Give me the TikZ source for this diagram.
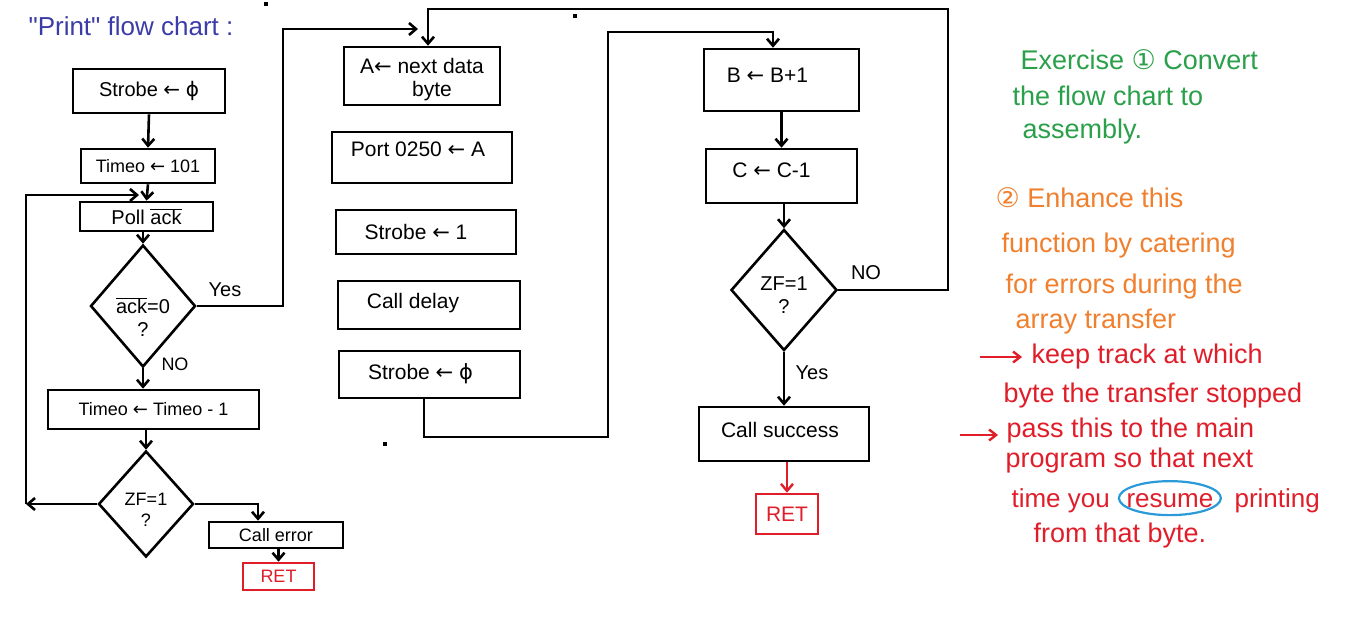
\documentclass[tikz,border=0pt]{standalone}
\usepackage{fontspec}
\setmainfont{Liberation Sans}
\newfontfamily\plainf{Liberation Sans}
\newfontfamily\symf{DejaVu Sans}
\usetikzlibrary{arrows.meta,shapes.geometric}
\definecolor{cgreen}{HTML}{2AA04A}
\definecolor{corange}{HTML}{F0802E}
\definecolor{cred}{HTML}{E01E2A}
\definecolor{cblue}{HTML}{2A9AD8}
\definecolor{ctitle}{HTML}{3C3CA8}
\newcommand{\myarr}{{\symf ←}}
\newcommand{\myphi}{{\symf ϕ}}
\newcommand{\myquote}{{\plainf "}}
\begin{document}
\begin{tikzpicture}[x=1pt,y=-1pt,
  box/.style={draw, line width=2.6pt, rectangle, inner sep=0pt},
  rbox/.style={draw=cred, text=cred, line width=2.6pt, rectangle, inner sep=0pt},
  dia/.style={draw, line width=2.6pt, diamond, inner sep=0pt},
  conn/.style={line width=2.6pt},
  arr/.style={line width=2.6pt, -{Straight Barb[length=7pt,width=12pt]}},
  rarr/.style={line width=2.4pt, draw=cred, -{Straight Barb[length=7pt,width=11pt]}},
  fsa/.style={font=\fontsize{18}{21}\selectfont},
  fsb/.style={font=\fontsize{20}{23}\selectfont},
  fsc/.style={font=\fontsize{21}{23}\selectfont},
  note/.style={anchor=base west, font=\fontsize{27}{30}\selectfont},
  notes/.style={anchor=base west, font=\fontsize{26}{30}\selectfont},
]
\fill[white] (0,0) rectangle (1352,622);
\useasboundingbox (0,0) rectangle (1352,622);

% title
\node[anchor=base west, text=ctitle, font=\fontsize{26}{30}\selectfont] (title) at (25,35) {\myquote Print\myquote{} flow chart :};

% left column
\node[box, fsb, minimum width=152, minimum height=44] (s0) at (149,91) {Strobe \myarr{} \myphi};
\node[box, fsa, minimum width=134, minimum height=34] (timeo) at (148,166) {Timeo \myarr{} 101};
\node[box, fsb, minimum width=133, minimum height=29] (poll) at (146.5,216.5) {Poll $\overline{\hbox{ack}}$};
\node[dia, minimum width=105, minimum height=122,
  label={[fsb, align=center, yshift=-11pt]center:{$\overline{\hbox{ack}}$=0\\?}}] (d1) at (143,306) {};
\node[box, fsa, minimum width=211, minimum height=39] (tm1) at (153.5,409.5) {Timeo \myarr{} Timeo - 1};
\node[dia, minimum width=95, minimum height=106,
  label={[fsa, align=center, yshift=-6pt]center:{ZF=1\\?}}] (zf1) at (146,504) {};
\node[box, fsa, minimum width=134, minimum height=26] (ce) at (276,535) {Call error};
\node[rbox, fsa, minimum width=71, minimum height=27] (ret1) at (278.5,576.5) {RET};

\node[fsb] (yes1) at (225,290) {Yes};
\node[fsa] (no1) at (175,364) {NO};

% middle column
\node[box, minimum width=156, minimum height=58,
  label={[fsc, align=center, yshift=-4pt]center:{A\myarr{} next data\\\hspace*{20pt}byte}}] (abox) at (422,76) {};
\node[box, minimum width=180, minimum height=51,
  label={[fsc, yshift=8pt, xshift=-4pt]center:{Port 0250 \myarr{} A}}] (port) at (422,157.5) {};
\node[box, minimum width=180, minimum height=44,
  label={[fsc, xshift=-10pt]center:{Strobe \myarr{} 1}}] (st1) at (426,232) {};
\node[box, minimum width=182, minimum height=48,
  label={[fsc, xshift=-16pt, yshift=2pt]center:{Call delay}}] (cd) at (429,305) {};
\node[box, minimum width=181, minimum height=47,
  label={[fsc, xshift=-9pt, yshift=1pt]center:{Strobe \myarr{} \myphi}}] (s0b) at (429.5,374.5) {};

% right column
\node[box, minimum width=155, minimum height=62,
  label={[fsc, xshift=-14pt, yshift=5pt]center:{B \myarr{} B+1}}] (bb) at (781.5,80) {};
\node[box, minimum width=151, minimum height=54,
  label={[fsc, xshift=-10pt, yshift=6pt]center:{C \myarr{} C-1}}] (cc) at (781.5,176) {};
\node[dia, minimum width=106, minimum height=121,
  label={[fsb, align=center, yshift=-5pt]center:{ZF=1\\?}}] (d2) at (784,290) {};
\node[box, minimum width=170, minimum height=54,
  label={[fsc, xshift=-4pt, yshift=4pt]center:{Call success}}] (cs) at (784,434) {};
\node[rbox, fsc, minimum width=62, minimum height=40] (ret2) at (787,514) {RET};

\node[fsb] (no2) at (866,273) {NO};
\node[fsb] (yes2) at (812,373) {Yes};

% coordinates for connector bends
\coordinate (lpb) at (26,504);
\coordinate (lpt) at (26,195);
\coordinate (loopin) at (139,195);
\coordinate (ybend) at (283,306);
\coordinate (ytop) at (283,29);
\coordinate (yend) at (418,29);
\coordinate (zfr) at (258,504);
\coordinate (mb) at (424,437);
\coordinate (mr) at (608,437);
\coordinate (mt) at (608,32);
\coordinate (bt) at (773,32);
\coordinate (nr) at (948,290);
\coordinate (ntr) at (948,9);
\coordinate (ntl) at (428,9);

% left connectors
\draw[arr] (s0.south) -- (timeo.north);
\draw[arr] (timeo.south) -- (poll.north);
\draw[arr] (d1.north |- poll.south) -- (d1.north);
\draw[arr] (d1.south) -- (d1.south |- tm1.north);
\draw[arr] (zf1.north |- tm1.south) -- (zf1.north);
\draw[arr] (zf1.west) -- (lpb);
\draw[arr] (lpb) -- (lpt) -- (loopin);
\draw[arr] (d1.east) -- (ybend) -- (ytop) -- (yend);
\draw[arr] (zf1.east) -- (zfr) -- (zfr |- ce.north);
\draw[arr] (ce.south -| ret1.north) -- (ret1.north);

% middle / right connectors
\draw[arr] (mb |- s0b.south) -- (mb) -- (mr) -- (mt) -- (bt) -- (bt |- bb.north);
\draw[arr] (bb.south) -- (cc.north);
\draw[arr] (d2.north |- cc.south) -- (d2.north);
\draw[arr] (d2.south) -- (cs.north);
\draw[arr] (d2.east) -- (nr) -- (ntr) -- (ntl) -- (ntl |- abox.north);
\draw[line width=2.4pt, draw=cred, -{Straight Barb[length=7pt,width=12pt]}] (ret2.north |- cs.south) -- (ret2.north);

% stray dots
\fill (264,2) rectangle (268,6);
\fill (573,14) rectangle (577,18);
\fill (383,442) rectangle (387,446);

% notes
\node[note, text=cgreen] (n1) at (1017,69) {Exercise {\symf ①} Convert};
\node[note, text=cgreen] (n2) at (1009,105) {the flow chart to};
\node[note, text=cgreen] (n3) at (1019,138) {assembly.};
\node[note, text=corange] (n4) at (992,207) {{\symf ②} Enhance this};
\node[note, text=corange] (n5) at (998,252) {function by catering};
\node[note, text=corange] (n6) at (1002,293) {for errors during the};
\node[note, text=corange] (n7) at (1012,328) {array transfer};
\coordinate (ra1s) at (980,357);
\coordinate (ra1e) at (1022,357);
\draw[rarr] (ra1s) -- (ra1e);
\node[note, text=cred] (n8) at (1028,363) {keep track at which};
\node[note, text=cred] (n9) at (1000,402) {byte the transfer stopped};
\coordinate (ra2s) at (960,435);
\coordinate (ra2e) at (998,435);
\draw[rarr] (ra2s) -- (ra2e);
\node[note, text=cred] (n10) at (1003,437) {pass this to the main};
\node[note, text=cred] (n11) at (1002,467) {program so that next};
\node[notes, text=cred] (n12) at (1008,507) {time you};
\node[notes, text=cred] (n13) at (1123,507) {resume};
\node[notes, text=cred] (n14) at (1231,507) {printing};
\draw[cblue, line width=2.2pt] ([yshift=2pt]n13.center) ellipse [x radius=51pt, y radius=17pt];
\node[note, text=cred] (n15) at (1030,542) {from that byte.};
\end{tikzpicture}
\end{document}
